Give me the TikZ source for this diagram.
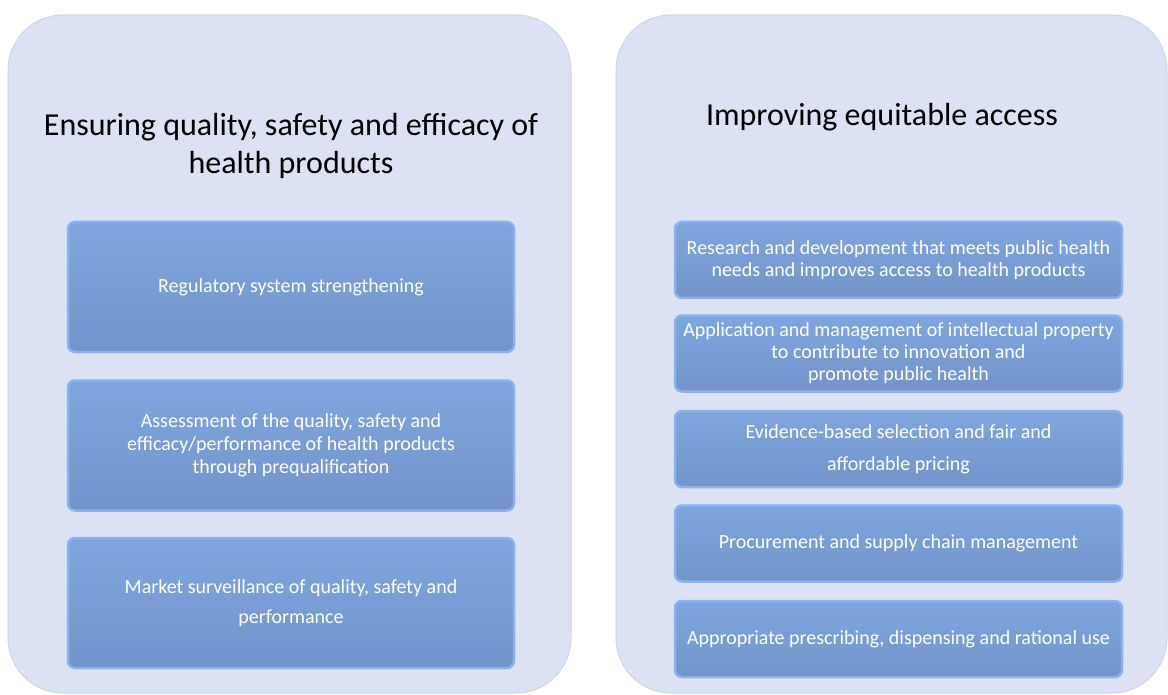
\documentclass[tikz,border=0pt]{standalone}
\usepackage{fontspec}
\setmainfont{Carlito}
\usetikzlibrary{positioning}
\definecolor{panelfill}{RGB}{220,225,243}
\definecolor{paneledge}{RGB}{208,213,230}
\definecolor{boxtop}{RGB}{128,165,222}
\definecolor{boxbot}{RGB}{114,148,202}
\definecolor{boxedge}{RGB}{140,178,238}
\tikzstyle{panel} = [rectangle, draw=paneledge, fill=panelfill, line width=1pt,
    rounded corners=55pt, minimum height=678pt]
\tikzstyle{heading} = [align=center, font=\fontsize{32}{38}\selectfont]
\tikzstyle{leftbox} = [rectangle, draw=boxedge, line width=2.5pt, top color=boxtop,
    bottom color=boxbot, rounded corners=7pt, text=white, align=center,
    minimum width=446pt, minimum height=130pt, font=\fontsize{20}{23}\selectfont]
\tikzstyle{rightbox} = [leftbox, minimum width=447pt, minimum height=76pt,
    font=\fontsize{20}{22}\selectfont]

\begin{document}
\begin{tikzpicture}[x=1pt, y=1pt]
    \useasboundingbox (0,0) rectangle (1168,-695);
    % Panels
    \node [panel, minimum width=563pt] (quality) at (289.5,-354) {};
    \node [panel, minimum width=551pt] (access) at (891.5,-354) {};

    % Headings
    \node [heading] (qualitytitle) at (291,-146)
        {Ensuring quality, safety and efficacy of\\health products};
    \node [heading] (accesstitle) at (882,-117) {Improving equitable access};

    % Left column
    \node [leftbox] (regulatory) at (291,-287) {Regulatory system strengthening};
    \node [leftbox, below=26pt of regulatory] (prequal)
        {Assessment of the quality, safety and\\efficacy/performance of health products\\through prequalification};
    \node [leftbox, below=25pt of prequal, font=\fontsize{20}{30}\selectfont] (surveillance)
        {Market surveillance of quality, safety and\\performance};

    % Right column
    \node [rightbox] (research) at (898.5,-260)
        {Research and development that meets public health\\needs and improves access to health products};
    \node [rightbox, below=15pt of research] (property)
        {Application and management of intellectual property\\to contribute to innovation and\\promote public health};
    \node [rightbox, below=17pt of property, font=\fontsize{20}{32}\selectfont] (pricing)
        {Evidence-based selection and fair and\\affordable pricing};
    \node [rightbox, below=16pt of pricing] (supply)
        {Procurement and supply chain management};
    \node [rightbox, below=17pt of supply] (use)
        {Appropriate prescribing, dispensing and rational use};
\end{tikzpicture}
\end{document}
